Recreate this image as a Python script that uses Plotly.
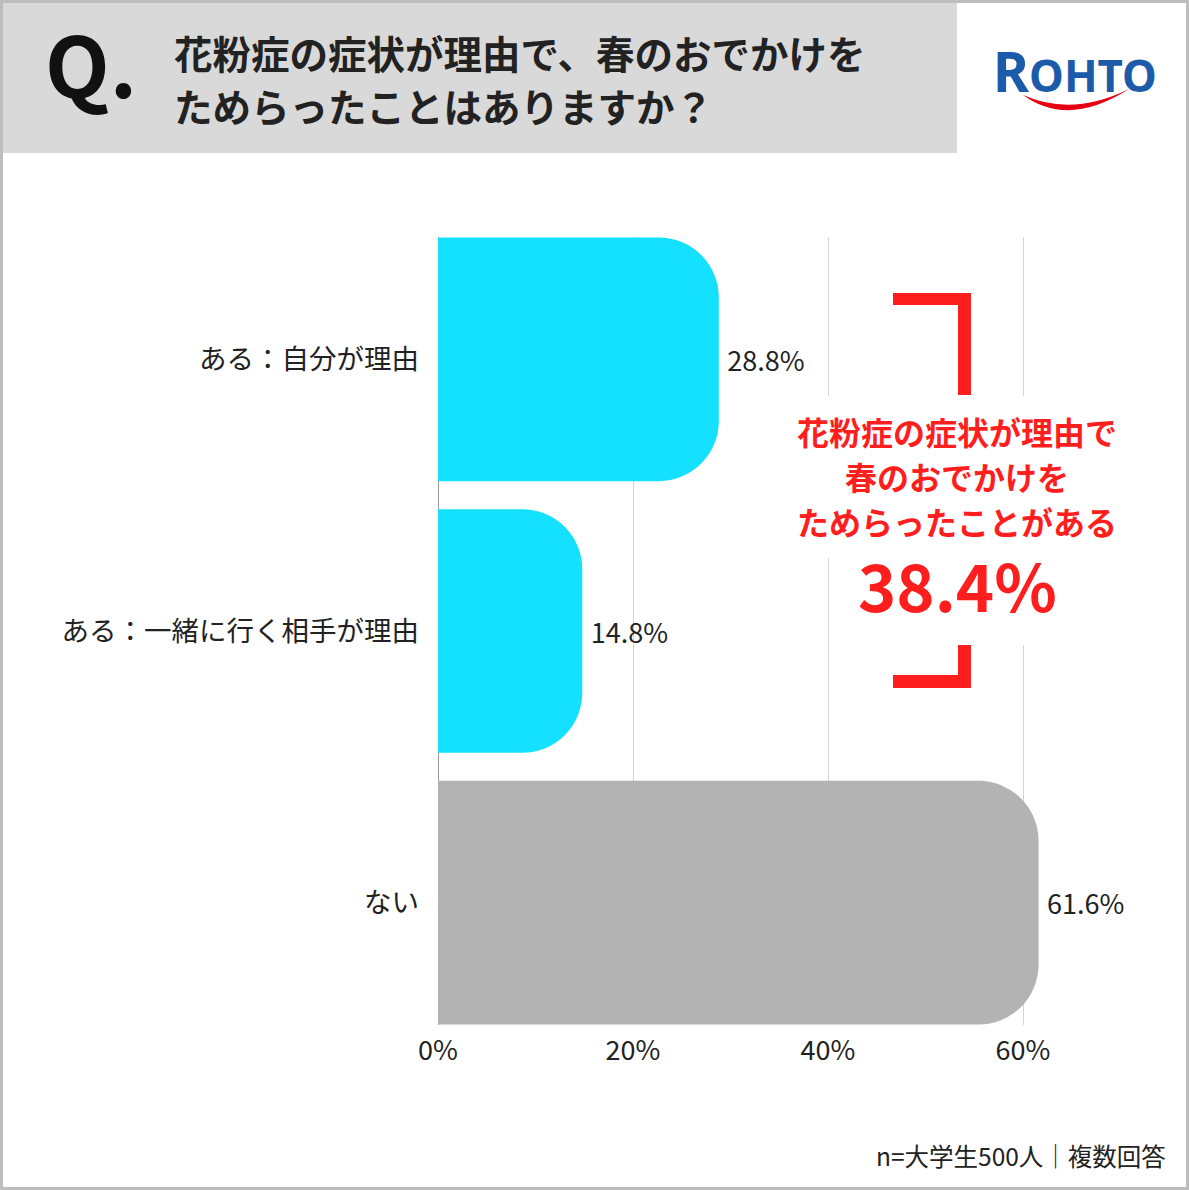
import plotly.graph_objects as go

categories = ["ある：自分が理由", "ある：一緒に行く相手が理由", "ない"]
values = [28.8, 14.8, 61.6]
colors = ["#14E1FF", "#14E1FF", "#B3B3B3"]
x_ticks = [0, 20, 40, 60]
x_tick_labels = ["0%", "20%", "40%", "60%"]
title_lines = ["花粉症の症状が理由で、春のおでかけを", "ためらったことはありますか？"]
callout_lines = ["花粉症の症状が理由で", "春のおでかけを", "ためらったことがある"]
callout_value = "38.4%"
note = "n=大学生500人｜複数回答"

W, H = 1189, 1190
FONT = "Noto Sans CJK JP"
RED = "#FF1E1E"


def px(x):
    return x / W


def py(y):
    return 1 - y / H


fig = go.Figure()
fig.add_trace(go.Bar(
    y=categories, x=values, orientation="h",
    marker=dict(color=colors, cornerradius=60, line=dict(width=0)),
    width=0.897,
    text=[f"\u2009{v:.1f}%" for v in values],
    textposition="outside",
    textfont=dict(family=FONT, size=27, color="#222222"),
    cliponaxis=False,
    hoverinfo="skip",
))

fig.update_layout(
    width=W, height=H,
    margin=dict(l=0, r=0, t=0, b=0, pad=0, autoexpand=False),
    paper_bgcolor="white", plot_bgcolor="white",
    showlegend=False,
    font=dict(family=FONT, color="#222222"),
    xaxis=dict(
        domain=[px(438), px(1120.5)],
        range=[0, 70],
        tickvals=x_ticks, ticktext=x_tick_labels,
        tickfont=dict(family=FONT, size=27, color="#222222"),
        showgrid=True, gridcolor="#D4D4D4", gridwidth=1,
        zeroline=True, zerolinecolor="#9A9A9A", zerolinewidth=1,
        showline=False, ticks="", ticklabelstandoff=7,
        automargin=False, fixedrange=True,
    ),
    yaxis=dict(
        domain=[py(1025), py(237)],
        type="category",
        range=[2.45, -0.45],
        tickfont=dict(family=FONT, size=27.5, color="#222222"),
        showgrid=False, zeroline=False, showline=False, ticks="",
        ticklabelstandoff=18,
        automargin=False, fixedrange=True,
    ),
)

shapes = []
# header band
shapes.append(dict(type="rect", xref="paper", yref="paper",
                   x0=px(3), x1=px(957), y0=py(153), y1=py(3),
                   fillcolor="#D9D9D9", line=dict(width=0), layer="above"))
# white boxes behind callout text (hide grid lines)
shapes.append(dict(type="rect", xref="paper", yref="paper",
                   x0=px(785), x1=px(1130), y0=py(558), y1=py(396),
                   fillcolor="white", line=dict(width=0), layer="above"))
shapes.append(dict(type="rect", xref="paper", yref="paper",
                   x0=px(840), x1=px(1065), y0=py(645), y1=py(558),
                   fillcolor="white", line=dict(width=0), layer="above"))
# red brackets
bracket_top = f"M {px(893)},{py(293)} L {px(971)},{py(293)} L {px(971)},{py(395)} L {px(958)},{py(395)} L {px(958)},{py(305)} L {px(893)},{py(305)} Z"
bracket_bot = f"M {px(958)},{py(645)} L {px(971)},{py(645)} L {px(971)},{py(688)} L {px(893)},{py(688)} L {px(893)},{py(675)} L {px(958)},{py(675)} Z"
for p in (bracket_top, bracket_bot):
    shapes.append(dict(type="path", xref="paper", yref="paper", path=p,
                       fillcolor=RED, line=dict(width=0), layer="above"))
# logo smile arc
arc = (f"M {px(1023)},{py(95)} Q {px(1068)},{py(128)} {px(1129)},{py(89)} "
       f"Q {px(1072)},{py(117)} {px(1023)},{py(95)} Z")
shapes.append(dict(type="path", xref="paper", yref="paper", path=arc,
                   fillcolor="#E60012", line=dict(width=0), layer="above"))
# outer border
shapes.append(dict(type="rect", xref="paper", yref="paper",
                   x0=px(1.5), x1=px(W - 1.5), y0=py(H - 1.5), y1=py(1.5),
                   fillcolor="rgba(0,0,0,0)", line=dict(color="#BDBDBD", width=3),
                   layer="above"))
fig.update_layout(shapes=shapes)

ann = []
ann.append(dict(text="<b>Q.</b>", x=px(43), y=py(61), xanchor="left", yanchor="middle",
                font=dict(family=FONT, size=84, color="#111111")))
for i, line in enumerate(title_lines):
    ann.append(dict(text=f"<b>{line}</b>", x=px(172), y=py(52 + 53 * i),
                    xanchor="left", yanchor="middle",
                    font=dict(family=FONT, size=38.5, color="#222222")))
# logo text
ann.append(dict(text="<b><span style='font-size:55px'>R</span>OHTO</b>",
                x=px(1075), y=py(70), xanchor="center", yanchor="middle",
                font=dict(family="Noto Sans", size=44, color="#1C5BAA")))
for i, line in enumerate(callout_lines):
    ann.append(dict(text=f"<b>{line}</b>", x=px(957), y=py(431 + 45 * i),
                    xanchor="center", yanchor="middle",
                    font=dict(family=FONT, size=32, color=RED)))
ann.append(dict(text=f"<b>{callout_value}</b>", x=px(957), y=py(584),
                xanchor="center", yanchor="middle",
                font=dict(family=FONT, size=65, color=RED)))
ann.append(dict(text=note, x=px(1168), y=py(1155), xanchor="right", yanchor="middle",
                font=dict(family=FONT, size=24.5, color="#222222")))
for a in ann:
    a.update(xref="paper", yref="paper", showarrow=False)
fig.update_layout(annotations=ann)

fig.write_html("out.html",
               config={"displayModeBar": False, "staticPlot": True},
               post_script="document.body.style.margin='0px';document.body.style.overflow='hidden';")
